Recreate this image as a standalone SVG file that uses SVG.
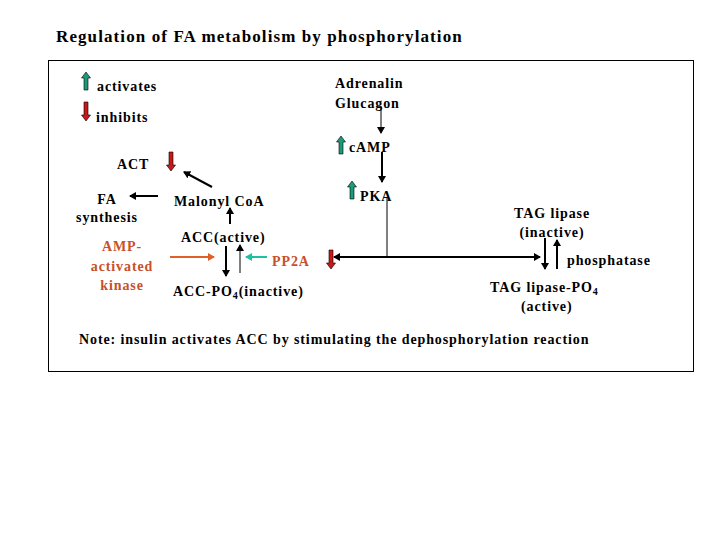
<svg xmlns="http://www.w3.org/2000/svg" width="720" height="540" viewBox="0 0 720 540">
<style>
text{font-family:"Liberation Serif",serif;font-size:14px;fill:#000;font-weight:bold;letter-spacing:0.9px}
.r{fill:#c8502a}
.ln{stroke:#000;fill:none}
</style>
<defs>
<marker id="ah" markerWidth="8" markerHeight="8" refX="6" refY="4" orient="auto" markerUnits="userSpaceOnUse"><path d="M0,0L7,4L0,8z" fill="#000"/></marker>
<marker id="ahr" markerWidth="8" markerHeight="8" refX="6" refY="4" orient="auto" markerUnits="userSpaceOnUse"><path d="M0,0L7,4L0,8z" fill="#e0602a"/></marker>
<marker id="aht" markerWidth="8" markerHeight="8" refX="6" refY="4" orient="auto" markerUnits="userSpaceOnUse"><path d="M0,0L7,4L0,8z" fill="#20c0a0"/></marker>
<path id="up" d="M0,-9L4.5,-3L2,-3L2,9L-2,9L-2,-3L-4.5,-3z" fill="#1a9a78" stroke="#000" stroke-width="0.6"/>
<path id="dn" d="M0,10L4.5,4L2,4L2,-9L-2,-9L-2,4L-4.5,4z" fill="#c81818" stroke="#000" stroke-width="0.6"/>
</defs>
<rect width="720" height="540" fill="#fff"/>
<text x="56" y="42" style="font-size:17px;letter-spacing:1.1px">Regulation of FA metabolism by phosphorylation</text>
<rect x="48.5" y="60.5" width="645" height="311" fill="none" stroke="#000"/>
<g id="legend">
<use href="#up" x="86" y="81"/><text x="97" y="91">activates</text>
<use href="#dn" x="86" y="111"/><text x="96" y="122">inhibits</text>
</g>
<g id="adrenalin"><text x="335" y="88">Adrenalin</text><text x="335" y="108">Glucagon</text></g>
<g id="camp"><use href="#up" x="341" y="145"/><text x="349" y="152">cAMP</text></g>
<g id="pka"><use href="#up" x="352" y="190"/><text x="360" y="201">PKA</text></g>
<g id="act"><text x="117" y="169">ACT</text><use href="#dn" x="171" y="161"/></g>
<g id="fa"><text x="107" y="204" text-anchor="middle">FA</text><text x="107" y="222" text-anchor="middle">synthesis</text></g>
<g id="malonyl"><text x="174" y="206">Malonyl CoA</text></g>
<g id="acc"><text x="181" y="242">ACC(active)</text></g>
<g id="accpo4"><text x="173" y="296">ACC-PO<tspan font-size="10" dy="3">4</tspan><tspan dy="-3">(inactive)</tspan></text></g>
<g id="ampk"><text x="122" y="251" text-anchor="middle" class="r">AMP-</text><text x="122" y="271" text-anchor="middle" class="r">activated</text><text x="122" y="290" text-anchor="middle" class="r">kinase</text></g>
<g id="pp2a"><text x="272" y="266" class="r">PP2A</text><use href="#dn" x="331" y="259"/></g>
<g id="tag"><text x="552" y="218" text-anchor="middle">TAG lipase</text><text x="552" y="237" text-anchor="middle">(inactive)</text></g>
<g id="phosphatase"><text x="567" y="265">phosphatase</text></g>
<g id="tagpo4"><text x="490" y="292">TAG lipase-PO<tspan font-size="10" dy="3">4</tspan></text><text x="521" y="311">(active)</text></g>
<g id="note"><text x="79" y="344">Note:  insulin activates ACC by stimulating the dephosphorylation reaction</text></g>
<g id="connectors">
<line class="ln" x1="381" y1="106" x2="381" y2="133" marker-end="url(#ah)"/>
<line class="ln" x1="382" y1="152" x2="382" y2="182" stroke-width="2" marker-end="url(#ah)"/>
<polyline class="ln" points="387,198 387,257"/>
<line class="ln" x1="387" y1="257" x2="334" y2="257" stroke-width="2" marker-end="url(#ah)"/>
<line class="ln" x1="387" y1="257" x2="540" y2="257" stroke-width="2" marker-end="url(#ah)"/>
<line class="ln" x1="545" y1="238" x2="545" y2="269" stroke-width="2" marker-end="url(#ah)"/>
<line class="ln" x1="557" y1="269" x2="557" y2="240" stroke-width="2" marker-end="url(#ah)"/>
<line class="ln" x1="212" y1="187" x2="184" y2="172" stroke-width="2" marker-end="url(#ah)"/>
<line class="ln" x1="158" y1="196" x2="130" y2="196" stroke-width="2" marker-end="url(#ah)"/>
<line class="ln" x1="230" y1="224" x2="230" y2="208" stroke-width="2" marker-end="url(#ah)"/>
<line class="ln" x1="226" y1="246" x2="226" y2="276" stroke-width="2" marker-end="url(#ah)"/>
<line class="ln" x1="240" y1="273" x2="240" y2="245" marker-end="url(#ah)"/>
<line x1="170" y1="257" x2="214" y2="257" stroke="#e0602a" stroke-width="2" marker-end="url(#ahr)"/>
<line x1="267" y1="257" x2="246" y2="257" stroke="#20c0a0" stroke-width="2" marker-end="url(#aht)"/>
</g>
</svg>
